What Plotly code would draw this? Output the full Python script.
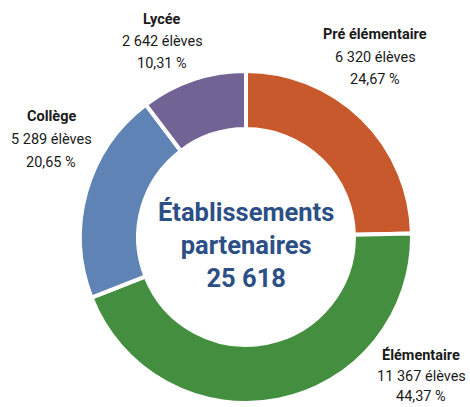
import plotly.graph_objects as go

categories = ["Pré élémentaire", "Élémentaire", "Collège", "Lycée"]
eleves = [6320, 11367, 5289, 2642]
colors = ["#C8592D", "#438F3F", "#5E83B4", "#726395"]
center_title = ["Établissements", "partenaires"]

W, H = 470, 407
total = sum(eleves)

def fr_int(n):
    return f"{n:,}".replace(",", " ")

def fr_pct(v):
    return f"{v:.2f}".replace(".", ",") + " %"

# pie geometry (pixels)
cx, cy, R = 246, 237, 166

fig = go.Figure(go.Pie(
    labels=categories,
    values=eleves,
    marker=dict(colors=colors, line=dict(color="white", width=4)),
    hole=0.65,
    sort=False,
    direction="clockwise",
    rotation=0,
    textinfo="none",
    hoverinfo="skip",
    showlegend=False,
    domain=dict(x=[(cx - R) / W, (cx + R) / W],
                y=[(H - cy - R) / H, (H - cy + R) / H]),
))

# label block positions (pixels): x centre, y of each of the three lines
label_pos = {
    "Pré élémentaire": (375, (35, 57, 80)),
    "Élémentaire": (421, (355, 376, 396)),
    "Collège": (51, (116, 140, 162)),
    "Lycée": (162, (20, 42, 63)),
}

annotations = []
for cat, v in zip(categories, eleves):
    px, ys = label_pos[cat]
    lines = [f"<b>{cat}</b>", f"{fr_int(v)} élèves", fr_pct(v / total * 100)]
    for line, py in zip(lines, ys):
        annotations.append(dict(
            x=px / W, y=1 - py / H, xref="paper", yref="paper",
            text=line, showarrow=False, xanchor="center", yanchor="middle",
            align="center",
            font=dict(family="Roboto, sans-serif", size=14.5, color="#1a1a1a"),
        ))

annotations.append(dict(
    x=cx / W, y=1 - 245 / H, xref="paper", yref="paper",
    text="<b>" + "<br>".join(center_title + [fr_int(total)]) + "</b>",
    showarrow=False, xanchor="center", yanchor="middle", align="center",
    font=dict(family="Roboto, Lato, sans-serif", size=25.5, color="#2C4F86"),
))

fig.update_layout(
    width=W, height=H,
    margin=dict(l=0, r=0, t=0, b=0),
    paper_bgcolor="white", plot_bgcolor="white",
    annotations=annotations,
)

fig.write_html("out.html", config={"displayModeBar": False})

with open("out.html", encoding="utf-8") as f:
    html = f.read()
html = html.replace("<body>", '<body style="margin:0;padding:0;overflow:hidden">', 1)
with open("out.html", "w", encoding="utf-8") as f:
    f.write(html)
